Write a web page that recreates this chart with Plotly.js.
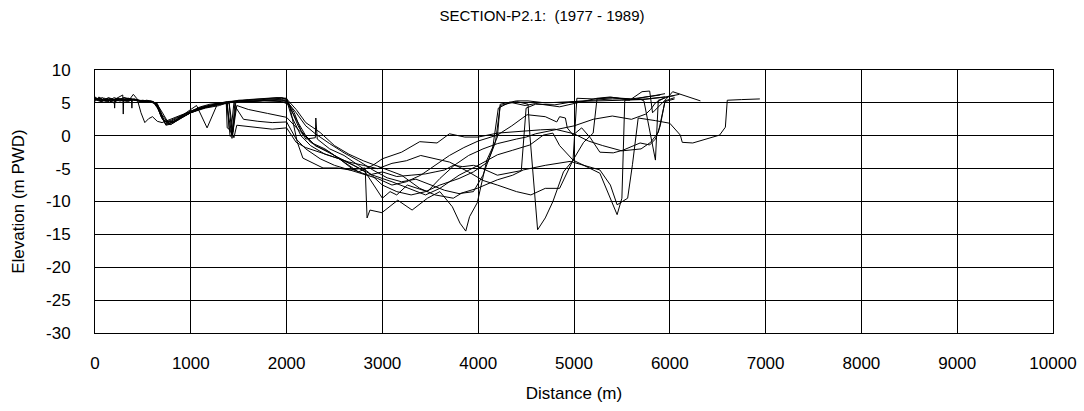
<!DOCTYPE html>
<html>
<head>
<meta charset="utf-8">
<script src="https://cdn.plot.ly/plotly-3.0.1.min.js"></script>
<style>html,body{margin:0;padding:0;background:#fff;}#chart{width:1084px;height:411px;}</style>
</head>
<body>
<div id="chart"></div>
<script>
// ---- data ----
const chartTitle = 'SECTION-P2.1:  (1977 - 1989)';
const xTitle = 'Distance (m)';
const yTitle = 'Elevation (m PWD)';

const s1x = [0,60,120,180,240,300,360,420,480,540,600,650,700,760,850,950,1100,1250,1350,1500,1700,1900,2000,2100,2200,2300,2450,2600,2750,2900,3050,3200,3350,3500,3650,3800,3950,4050,4150,4210,4330,4490,4600,4850,5030,5240,5380,5580,5710,5790,5820,5870,5970,6030,6140,6320];
const s1y = [5.8,5.3,5.6,5.2,5.7,5.4,5.5,5.4,5.3,5.3,5.2,4.4,2.6,2.0,2.6,3.4,4.2,4.7,5.0,5.1,5.3,5.5,5.3,3.5,1.5,0.3,-1.2,-2.6,-3.8,-5.2,-6.4,-7.0,-6.6,-7.5,-8.3,-8.8,-8.5,-6.0,-2.0,4.2,5.1,4.6,4.9,4.4,5.0,5.7,5.9,5.4,6.7,6.8,3.5,4.2,5.7,6.7,6.2,5.3];

const s2x = [0,80,150,220,290,295,300,380,385,390,500,640,700,740,800,900,1000,1150,1300,1370,1380,1420,1450,1550,1750,1950,2030,2110,2170,2270,2380,2530,2660,2820,2840,2870,2995,3160,3310,3470,3600,3730,3810,3870,3910,3990,4090,4200,4230,4400,4520,4700,5000,5500,5700,5730,5800,5850,5880,6000,6100];
const s2y = [5.5,5.8,5.1,5.6,6.2,3.3,5.8,5.6,4.2,5.5,5.3,5.0,3.0,1.6,1.8,2.8,3.5,4.2,4.6,5.0,1.2,0.8,5.0,5.2,5.3,5.2,4.7,-0.9,-3.4,-4.1,-4.9,-4.9,-5.2,-4.9,-12.5,-11.3,-11.7,-9.8,-11.3,-9.5,-8.5,-10.8,-13.3,-14.5,-12.3,-10.2,-3.7,-0.2,4.8,5.3,5.3,5.0,5.2,5.4,5.5,5.3,0.0,-3.7,5.4,6.0,6.3];

const s3x = [0,70,140,210,280,350,420,500,580,650,700,750,820,900,1000,1100,1200,1300,1400,1430,1460,1500,1650,1800,1950,2000,2100,2200,2350,2500,2650,2800,3000,3200,3390,3550,3740,3830,3990,4200,4360,4470,4700,4960,5270,5380,5450,5560,5610,5670,5850,6000,6110,6130,6240,6420,6520,6580,6600,6750,6940];
const s3y = [5.6,5.3,5.7,5.4,5.6,5.3,5.5,5.2,5.3,4.9,3.2,2.2,2.0,2.7,3.5,4.1,4.5,4.8,5.0,-0.4,5.0,5.3,5.4,5.6,5.7,5.6,4.0,2.0,0.5,-1.5,-2.8,-3.8,-4.9,-6.0,-8.0,-9.0,-9.5,-8.7,-8.0,-6.7,-6.0,-5.2,-4.5,-3.9,-5.2,-7.5,-10.5,-9.5,-4.4,2.7,2.3,1.9,0.1,-1.0,-1.1,-0.3,0.1,1.3,5.4,5.5,5.6];

const s4x = [0,50,110,170,230,300,360,400,440,480,520,560,600,650,700,750,800,900,1000,1100,1200,1300,1400,1500,1650,1800,1950,2000,2080,2150,2250,2400,2550,2700,2850,3000,3150,3300,3450,3550,3650,3740,3840,3950,4000,4200,4450,4500,4600,4800,5000,5200,5400,5550,5720,5900,6050];
const s4y = [5.4,5.7,5.2,5.6,5.3,5.8,5.5,6.3,5.6,3.5,2.0,2.6,2.9,2.2,2.0,2.3,2.6,3.2,3.8,4.3,4.6,4.9,5.1,5.4,5.5,5.6,5.8,5.5,3.5,0.8,-1.0,-2.0,-3.5,-5.2,-6.0,-5.5,-6.2,-6.0,-5.8,-5.5,-5.2,-4.5,-4.7,-4.5,-4.7,-6.0,-5.3,4.2,4.8,4.7,5.2,5.4,5.6,5.6,5.5,5.8,6.1];

const s5x = [0,70,130,190,260,330,400,470,540,610,660,710,770,860,960,1060,1170,1280,1380,1500,1650,1800,1950,2000,2100,2200,2300,2450,2600,2750,2900,3000,3200,3390,3570,3700,3860,4000,4200,4440,4650,4800,5000,5150,5300,5500,5700,5800,5880,5950,6050];
const s5y = [5.7,5.2,5.5,5.0,5.6,5.4,5.5,5.2,5.4,5.2,4.2,2.4,1.8,2.5,3.6,4.6,1.2,4.9,5.2,5.3,5.2,5.4,5.3,5.2,2.5,0.0,-1.5,-2.5,-4.0,-5.5,-4.5,-3.5,-2.5,-0.9,-1.1,0.3,-0.2,-0.2,0.4,0.7,0.9,1.0,0.3,-0.8,-1.5,-2.3,-2.0,-1.0,0.5,5.2,5.6];

const s6x = [0,60,130,200,270,340,410,480,560,640,700,760,830,920,1020,1120,1220,1320,1400,1440,1480,1600,1800,1950,2000,2150,2300,2500,2700,2900,3100,3300,3450,3600,3800,4000,4200,4360,4540,4680,4780,4850,4990,5270,5450,5500,5530,5650,5750,5900];
const s6y = [5.5,5.6,5.2,5.8,5.4,5.2,5.6,5.3,5.2,5.0,3.6,2.1,2.2,2.9,3.7,4.2,4.6,4.9,5.0,0.6,4.6,4.0,3.4,2.9,2.8,0.5,-1.5,-3.0,-4.5,-6.0,-7.0,-8.2,-9.0,-8.0,-6.0,-4.5,-2.9,-2.2,-1.4,0.1,0.4,-1.5,-3.7,-5.7,-12.0,-9.5,5.4,5.6,5.9,6.2];

const s7x = [0,50,100,160,220,280,340,400,460,520,580,640,690,740,800,900,1000,1100,1200,1300,1380,1410,1440,1470,1600,1750,1900,2000,2050,2120,2200,2300,2305,2320,2450,2600,2750,2850,3000,3150,3300,3450,3600,3800,3950,4100,4180,4230,4400,4520,4540,4620,4700,4780,4890,4990,5100,5200,5240,5400,5600,5750,5950];
const s7y = [5.9,5.4,5.7,5.3,5.5,5.6,5.3,5.5,5.4,5.3,5.2,4.8,2.9,1.7,2.0,2.9,3.7,4.3,4.7,5.0,5.1,-0.1,0.3,5.2,5.5,5.6,5.8,5.7,4.0,1.5,-0.5,-0.3,2.7,-0.5,-2.0,-3.0,-4.5,-5.5,-7.5,-8.5,-9.0,-8.5,-7.5,-6.5,-5.5,-4.0,-1.0,4.6,5.2,4.8,0.0,-14.3,-12.5,-10.0,-5.5,-3.7,-1.0,0.4,5.6,5.8,5.5,5.6,5.9];

const s8x = [0,70,140,210,280,350,420,490,560,630,690,730,790,880,980,1080,1180,1280,1380,1400,1430,1470,1550,1700,1850,2000,2100,2200,2350,2500,2650,2800,2950,3100,3250,3400,3550,3700,3850,4000,4200,4350,4510,4700,4820,4850,4910,4930,4990,5080,5170,5270,5410,5510,5690,5790,5850,5900,5950,6050];
const s8y = [5.6,5.5,5.3,5.6,5.5,5.7,5.4,5.3,5.2,4.9,3.4,1.9,1.7,2.5,3.4,4.0,4.5,4.8,5.0,1.0,0.2,4.3,2.5,2.2,2.0,2.1,-0.5,-2.0,-3.5,-4.5,-5.2,-5.8,-6.5,-7.5,-7.0,-6.0,-4.5,-3.0,-1.8,-0.8,0.1,1.5,3.2,2.9,2.1,2.9,2.7,1.2,0.1,1.2,-0.3,-2.5,-2.6,-2.2,-1.1,-1.4,-0.5,1.5,5.3,5.8];

const s9x = [0,60,120,190,260,330,400,470,540,610,670,720,780,870,970,1070,1170,1270,1370,1420,1450,1480,1550,1700,1850,2000,2100,2200,2350,2500,2650,2800,2950,3100,3250,3400,3550,3700,3900,4050,4200,4400,4550,4700,4850,4990,5030,5200,5400,5600,5800,5950];
const s9y = [5.5,5.2,5.6,5.4,5.3,5.5,5.6,5.3,5.2,5.1,3.8,2.3,1.9,2.6,3.3,3.9,4.4,4.7,4.9,0.9,-0.3,1.6,1.5,1.2,1.0,1.2,-1.0,-1.8,-2.5,-3.2,-4.0,-4.5,-5.0,-4.2,-3.8,-3.0,-3.5,-4.0,-5.5,-6.8,-7.5,-8.5,-9.0,-8.0,-8.0,-3.7,5.7,5.6,5.8,5.6,6.0,6.4];

const s10x = [0,40,90,140,200,205,210,260,320,380,440,500,570,640,690,740,800,900,1000,1100,1200,1300,1400,1500,1650,1800,1950,2000,2050,2150,2250,2400,2550,2700,2820,3000,3080,3150,3260,3470,3600,3750,3900,4050,4200,4400,4500,4600,4800,5000,5200,5400,5600,5750,5800,5850,5950];
const s10y = [5.2,5.9,5.4,5.8,5.5,4.2,5.6,5.3,5.4,5.6,5.3,5.4,5.2,4.9,3.0,2.1,2.4,3.1,3.8,4.4,4.8,5.0,5.2,5.3,5.3,5.4,5.5,5.4,3.0,0.0,-1.5,-2.8,-3.5,-4.5,-5.5,-9.5,-8.5,-9.0,-7.5,-8.5,-6.5,-4.5,-3.0,-2.0,-1.2,-0.5,-0.2,0.3,0.9,1.5,2.5,3.0,2.5,3.3,4.0,5.0,5.8];

const seriesX = [s1x,s2x,s3x,s4x,s5x,s6x,s7x,s8x,s9x,s10x];
const seriesY = [s1y,s2y,s3y,s4y,s5y,s6y,s7y,s8y,s9y,s10y];

const xTicks = [0,1000,2000,3000,4000,5000,6000,7000,8000,9000,10000];
const yTicks = [-30,-25,-20,-15,-10,-5,0,5,10];

// ---- chart ----
const FONT = 'Liberation Sans, Arial, sans-serif';
const traces = seriesX.map((xs, i) => ({
  type: 'scatter', mode: 'lines', x: xs, y: seriesY[i],
  line: {color: '#000', width: 1}, hoverinfo: 'skip'
}));

const layout = {
  width: 1084, height: 411,
  margin: {l: 95, r: 31, t: 70, b: 78},
  paper_bgcolor: '#fff', plot_bgcolor: '#fff',
  showlegend: false,
  font: {family: FONT, size: 17, color: '#000'},
  title: {text: chartTitle, x: 0.5, xref: 'container', xanchor: 'center',
          y: 1 - 16/411, yref: 'container', yanchor: 'middle',
          font: {family: FONT, size: 15, color: '#000'}},
  xaxis: {
    range: [0, 10000], tickvals: xTicks, ticktext: xTicks.map(String),
    showgrid: true, gridcolor: '#000', gridwidth: 1, zeroline: false,
    showline: true, linecolor: '#000', linewidth: 1, mirror: true,
    ticks: 'outside', ticklen: 15, tickcolor: 'rgba(0,0,0,0)',
    tickfont: {family: FONT, size: 17, color: '#000'},
    title: {text: xTitle, font: {family: FONT, size: 17, color: '#000'}, standoff: 14}
  },
  yaxis: {
    range: [-30, 10], tickvals: yTicks, ticktext: yTicks.map(String),
    showgrid: true, gridcolor: '#000', gridwidth: 1, zeroline: false,
    showline: true, linecolor: '#000', linewidth: 1, mirror: true,
    ticks: 'outside', ticklen: 20, tickcolor: 'rgba(0,0,0,0)',
    tickfont: {family: FONT, size: 17, color: '#000'},
    title: {text: yTitle, font: {family: FONT, size: 17, color: '#000'}, standoff: 17}
  }
};

Plotly.newPlot('chart', traces, layout, {staticPlot: true, displayModeBar: false});
</script>
</body>
</html>
